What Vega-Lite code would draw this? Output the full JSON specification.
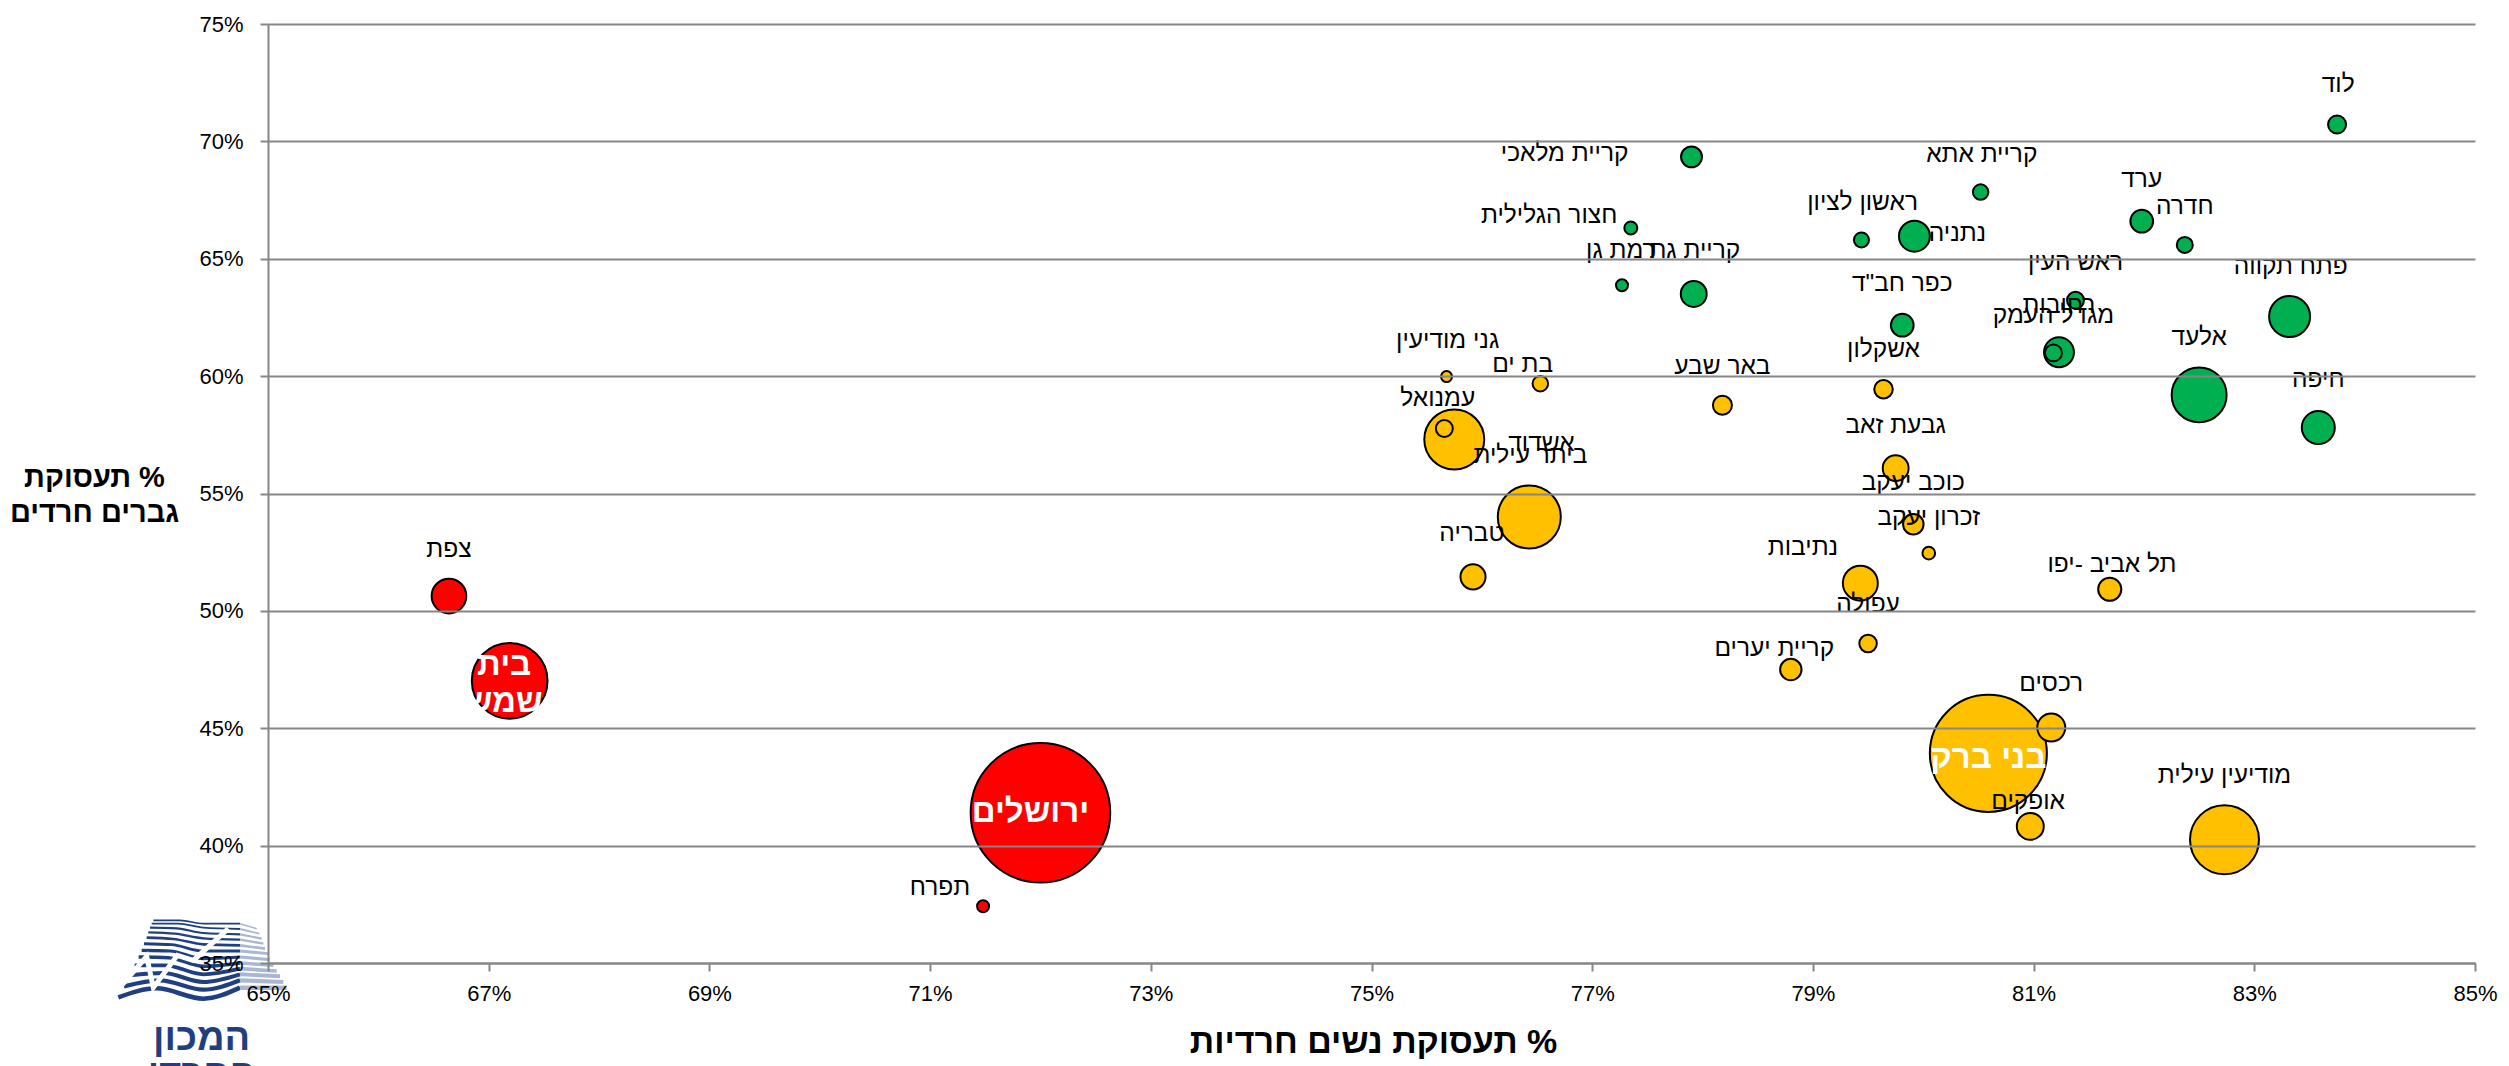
{
"$schema":"https://vega.github.io/schema/vega-lite/v6.json",
"autosize":{"type":"none"},
"padding":{"left":268,"top":24,"right":34,"bottom":103},
"width":2207,"height":939,
"background":"white",
"config":{"view":{"stroke":null},"font":"Liberation Sans"},
"datasets":{
"logo":[
{"stripe":0,"part":"dark","zx":55,"zy":291},{"stripe":0,"part":"dark","zx":170,"zy":264},{"stripe":0,"part":"dark","zx":310,"zy":295},{"stripe":0,"part":"dark","zx":420,"zy":262},{"stripe":0,"part":"light","zx":420,"zy":262},{"stripe":0,"part":"light","zx":560,"zy":262},
{"stripe":1,"part":"dark","zx":72,"zy":258},{"stripe":1,"part":"dark","zx":180,"zy":240},{"stripe":1,"part":"dark","zx":310,"zy":268},{"stripe":1,"part":"dark","zx":420,"zy":240},{"stripe":1,"part":"light","zx":420,"zy":240},{"stripe":1,"part":"light","zx":550,"zy":245},
{"stripe":2,"part":"dark","zx":90,"zy":225},{"stripe":2,"part":"dark","zx":190,"zy":218},{"stripe":2,"part":"dark","zx":310,"zy":245},{"stripe":2,"part":"dark","zx":420,"zy":222},{"stripe":2,"part":"light","zx":420,"zy":222},{"stripe":2,"part":"light","zx":540,"zy":228},
{"stripe":3,"part":"dark","zx":104,"zy":195},{"stripe":3,"part":"dark","zx":195,"zy":195},{"stripe":3,"part":"dark","zx":310,"zy":222},{"stripe":3,"part":"dark","zx":420,"zy":205},{"stripe":3,"part":"light","zx":420,"zy":205},{"stripe":3,"part":"light","zx":530,"zy":212},
{"stripe":4,"part":"dark","zx":116,"zy":170},{"stripe":4,"part":"dark","zx":205,"zy":172},{"stripe":4,"part":"dark","zx":310,"zy":198},{"stripe":4,"part":"dark","zx":420,"zy":188},{"stripe":4,"part":"light","zx":420,"zy":188},{"stripe":4,"part":"light","zx":520,"zy":195},
{"stripe":5,"part":"dark","zx":125,"zy":150},{"stripe":5,"part":"dark","zx":210,"zy":152},{"stripe":5,"part":"dark","zx":310,"zy":175},{"stripe":5,"part":"dark","zx":420,"zy":170},{"stripe":5,"part":"light","zx":420,"zy":170},{"stripe":5,"part":"light","zx":510,"zy":178},
{"stripe":6,"part":"dark","zx":132,"zy":130},{"stripe":6,"part":"dark","zx":215,"zy":133},{"stripe":6,"part":"dark","zx":310,"zy":152},{"stripe":6,"part":"dark","zx":420,"zy":152},{"stripe":6,"part":"light","zx":420,"zy":152},{"stripe":6,"part":"light","zx":505,"zy":160},
{"stripe":7,"part":"dark","zx":140,"zy":112},{"stripe":7,"part":"dark","zx":220,"zy":116},{"stripe":7,"part":"dark","zx":310,"zy":132},{"stripe":7,"part":"dark","zx":420,"zy":135},{"stripe":7,"part":"light","zx":420,"zy":135},{"stripe":7,"part":"light","zx":495,"zy":145},
{"stripe":8,"part":"dark","zx":145,"zy":96},{"stripe":8,"part":"dark","zx":225,"zy":100},{"stripe":8,"part":"dark","zx":310,"zy":114},{"stripe":8,"part":"dark","zx":420,"zy":118},{"stripe":8,"part":"light","zx":420,"zy":118},{"stripe":8,"part":"light","zx":490,"zy":130},
{"stripe":9,"part":"dark","zx":150,"zy":82},{"stripe":9,"part":"dark","zx":230,"zy":84},{"stripe":9,"part":"dark","zx":310,"zy":98},{"stripe":9,"part":"dark","zx":420,"zy":102},{"stripe":9,"part":"light","zx":420,"zy":102},{"stripe":9,"part":"light","zx":485,"zy":115},
{"stripe":10,"part":"dark","zx":155,"zy":70},{"stripe":10,"part":"dark","zx":235,"zy":70},{"stripe":10,"part":"dark","zx":310,"zy":82},{"stripe":10,"part":"dark","zx":420,"zy":86},{"stripe":10,"part":"light","zx":420,"zy":86},{"stripe":10,"part":"light","zx":478,"zy":100},
{"stripe":11,"part":"dark","zx":160,"zy":60},{"stripe":11,"part":"dark","zx":240,"zy":60},{"stripe":11,"part":"dark","zx":310,"zy":70},{"stripe":11,"part":"dark","zx":420,"zy":70},{"stripe":11,"part":"light","zx":420,"zy":70},{"stripe":11,"part":"light","zx":470,"zy":85}
],
"zig":[{"n":1,"zx":50,"zy":272},{"n":2,"zx":140,"zy":168},{"n":3,"zx":160,"zy":262},{"n":4,"zx":232,"zy":165},{"n":5,"zx":280,"zy":180},{"n":6,"zx":385,"zy":85}],
"logoText":[{"label":"המכון","zx":305,"zy":415},{"label":"החרדי","zx":305,"zy":525}],
"cities":[
{"city":"לוד","group":"high","women":83.75,"men":70.72,"pop":17},
{"city":"קריית מלאכי","group":"high","women":77.9,"men":69.34,"pop":23},
{"city":"קריית אתא","group":"high","women":80.52,"men":67.84,"pop":12.6},
{"city":"ערד","group":"high","women":81.98,"men":66.6,"pop":27},
{"city":"חדרה","group":"high","women":82.37,"men":65.59,"pop":13.4},
{"city":"ראשון לציון","group":"high","women":79.44,"men":65.8,"pop":11.8},
{"city":"נתניה","group":"high","women":79.92,"men":65.96,"pop":50},
{"city":"חצור הגלילית","group":"high","women":77.35,"men":66.31,"pop":8.8},
{"city":"רמת גן","group":"high","women":77.27,"men":63.87,"pop":7.5},
{"city":"קריית גת","group":"high","women":77.92,"men":63.5,"pop":35},
{"city":"ראש העין","group":"high","women":81.38,"men":63.23,"pop":15},
{"city":"פתח תקווה","group":"high","women":83.32,"men":62.54,"pop":88},
{"city":"כפר חב\"ד","group":"high","women":79.81,"men":62.17,"pop":27},
{"city":"רחובות","group":"high","women":81.23,"men":61.02,"pop":47},
{"city":"מגדל העמק","group":"high","women":81.18,"men":60.99,"pop":15},
{"city":"אלעד","group":"high","women":82.5,"men":59.2,"pop":158},
{"city":"חיפה","group":"high","women":83.58,"men":57.81,"pop":57},
{"city":"גני מודיעין","group":"mid","women":75.68,"men":59.98,"pop":6.3},
{"city":"בת ים","group":"mid","women":76.53,"men":59.68,"pop":12.6},
{"city":"באר שבע","group":"mid","women":78.18,"men":58.76,"pop":19},
{"city":"אשקלון","group":"mid","women":79.64,"men":59.44,"pop":18},
{"city":"עמנואל","group":"mid","women":75.66,"men":57.77,"pop":15},
{"city":"אשדוד","group":"mid","women":75.75,"men":57.3,"pop":188},
{"city":"ביתר עילית","group":"mid","women":76.43,"men":54.0,"pop":208},
{"city":"גבעת זאב","group":"mid","women":79.75,"men":56.08,"pop":35},
{"city":"טבריה","group":"mid","women":75.92,"men":51.45,"pop":33},
{"city":"כוכב יעקב","group":"mid","women":79.91,"men":53.69,"pop":22},
{"city":"זכרון יעקב","group":"mid","women":80.05,"men":52.46,"pop":8.4},
{"city":"נתיבות","group":"mid","women":79.43,"men":51.18,"pop":64},
{"city":"תל אביב -יפו","group":"mid","women":81.69,"men":50.92,"pop":28},
{"city":"עפולה","group":"mid","women":79.5,"men":48.61,"pop":16},
{"city":"קריית יערים","group":"mid","women":78.8,"men":47.5,"pop":24},
{"city":"רכסים","group":"mid","women":81.16,"men":45.03,"pop":41},
{"city":"בני ברק","group":"mid","women":80.59,"men":43.93,"pop":717},
{"city":"אופקים","group":"mid","women":80.97,"men":40.82,"pop":38},
{"city":"מודיעין עילית","group":"mid","women":82.73,"men":40.25,"pop":249},
{"city":"ירושלים","group":"low","women":72.0,"men":41.4,"pop":1020},
{"city":"בית שמש","group":"low","women":67.19,"men":47.02,"pop":300},
{"city":"צפת","group":"low","women":66.64,"men":50.63,"pop":63},
{"city":"תפרח","group":"low","women":71.48,"men":37.42,"pop":7.5}
],
"labels":[
{"label":"לוד","lx":83.76,"ly":72.47},
{"label":"קריית מלאכי","lx":76.75,"ly":69.55},
{"label":"קריית אתא","lx":80.53,"ly":69.51},
{"label":"ערד","lx":81.98,"ly":68.44},
{"label":"חדרה","lx":82.37,"ly":67.28},
{"label":"ראשון לציון","lx":79.45,"ly":67.45},
{"label":"נתניה","lx":80.31,"ly":66.13},
{"label":"חצור הגלילית","lx":76.61,"ly":66.92},
{"label":"רמת גן","lx":77.26,"ly":65.43},
{"label":"קריית גת","lx":77.93,"ly":65.4},
{"label":"ראש העין","lx":81.38,"ly":64.89},
{"label":"פתח תקווה","lx":83.33,"ly":64.75},
{"label":"כפר חב\"ד","lx":79.81,"ly":64.01},
{"label":"רחובות","lx":81.23,"ly":63.06},
{"label":"מגדל העמק","lx":81.18,"ly":62.65},
{"label":"אלעד","lx":82.5,"ly":61.73},
{"label":"חיפה","lx":83.58,"ly":59.9},
{"label":"גני מודיעין","lx":75.69,"ly":61.57},
{"label":"בת ים","lx":76.37,"ly":60.56},
{"label":"באר שבע","lx":78.18,"ly":60.46},
{"label":"אשקלון","lx":79.64,"ly":61.18},
{"label":"עמנואל","lx":75.6,"ly":59.09},
{"label":"אשדוד","lx":76.54,"ly":57.2},
{"label":"ביתר עילית","lx":76.44,"ly":56.7},
{"label":"גבעת זאב","lx":79.75,"ly":57.95},
{"label":"כוכב יעקב","lx":79.91,"ly":55.52},
{"label":"זכרון יעקב","lx":80.05,"ly":54.03},
{"label":"טבריה","lx":75.91,"ly":53.34},
{"label":"נתיבות","lx":78.91,"ly":52.77},
{"label":"תל אביב -יפו","lx":81.71,"ly":52.06},
{"label":"עפולה","lx":79.5,"ly":50.34},
{"label":"קריית יערים","lx":78.65,"ly":48.47},
{"label":"רכסים","lx":81.16,"ly":46.98},
{"label":"אופקים","lx":80.95,"ly":41.94},
{"label":"מודיעין עילית","lx":82.73,"ly":43.04},
{"label":"צפת","lx":66.64,"ly":52.69},
{"label":"תפרח","lx":71.09,"ly":38.29}
],
"inside":[
{"label":"ירושלים","lx":71.91,"ly":41.44},
{"label":"בני ברק","lx":80.59,"ly":43.75},
{"label":"בית","lx":67.14,"ly":47.69},
{"label":"שמש","lx":67.14,"ly":46.12}
]
},
"resolve":{"scale":{"x":"independent","y":"independent","color":"independent"}},
"layer":[
{"data":{"name":"logo"},
 "mark":{"type":"line","clip":false,"interpolate":"monotone"},
 "encoding":{
  "x":{"field":"zx","type":"quantitative","axis":null,"scale":{"domain":[504,7125],"nice":false,"zero":false}},
  "y":{"field":"zy","type":"quantitative","axis":null,"scale":{"domain":[188,-2629],"nice":false,"zero":false}},
  "detail":[{"field":"stripe"},{"field":"part"}],
  "color":{"field":"part","type":"nominal","legend":null,"scale":{"domain":["dark","light"],"range":["#1f3f80","#a9b7d3"]}},
  "strokeWidth":{"field":"stripe","type":"quantitative","legend":null,"scale":{"domain":[0,11],"range":[4.5,1.6]}}
 }},
{"data":{"name":"zig"},
 "mark":{"type":"line","clip":false,"color":"white","strokeWidth":5},
 "encoding":{
  "x":{"field":"zx","type":"quantitative","axis":null,"scale":{"domain":[504,7125],"nice":false,"zero":false}},
  "y":{"field":"zy","type":"quantitative","axis":null,"scale":{"domain":[188,-2629],"nice":false,"zero":false}},
  "order":{"field":"n"}
 }},
{"data":{"name":"logoText"},
 "mark":{"type":"text","clip":false,"color":"#1f3f80","fontSize":38,"fontWeight":"bold","baseline":"middle","align":"center"},
 "encoding":{
  "x":{"field":"zx","type":"quantitative","axis":null,"scale":{"domain":[504,7125],"nice":false,"zero":false}},
  "y":{"field":"zy","type":"quantitative","axis":null,"scale":{"domain":[188,-2629],"nice":false,"zero":false}},
  "text":{"field":"label"}
 }},
{"data":{"name":"cities"},
 "mark":{"type":"point","filled":true,"shape":"circle","stroke":"black","strokeWidth":2,"opacity":1},
 "encoding":{
  "x":{"field":"women","type":"quantitative","scale":{"domain":[65,85],"nice":false,"zero":false},
   "axis":{"zindex":1,"values":[65,67,69,71,73,75,77,79,81,83,85],"labelExpr":"datum.value + '%'","grid":false,"domainColor":"#868686","domainWidth":2,"tickColor":"#868686","tickWidth":2,"tickSize":8,"labelFontSize":22,"labelColor":"black","labelPadding":12,"labelFlush":false,"title":"תעסוקת נשים חרדיות %","titleFontSize":34,"titleFontWeight":"bold","titleColor":"black","titleBaseline":"middle","titleX":1105,"titleY":79}},
  "y":{"field":"men","type":"quantitative","scale":{"domain":[35,75],"nice":false,"zero":false},
   "axis":{"zindex":1,"values":[35,40,45,50,55,60,65,70,75],"labelExpr":"datum.value + '%'","grid":true,"gridColor":"#868686","gridWidth":2,"domainColor":"#868686","domainWidth":2,"tickColor":"#868686","tickWidth":2,"tickSize":8,"labelFontSize":22,"labelColor":"black","labelPadding":17,"labelFlush":false,"title":["תעסוקת %","גברים חרדים"],"titleFontSize":29,"titleFontWeight":"bold","titleColor":"black","titleAngle":0,"titleAlign":"center","titleBaseline":"middle","titleLineHeight":35,"titleX":-174,"titleY":453}},
  "size":{"field":"pop","type":"quantitative","legend":null,"scale":{"domain":[0,1000],"range":[0,19100]}},
  "color":{"field":"group","type":"nominal","legend":null,"scale":{"domain":["high","mid","low"],"range":["#00B050","#FFC000","#FF0000"]}},
  "order":{"field":"pop","sort":"descending"}
 }},
{"data":{"name":"labels"},
 "mark":{"type":"text","fontSize":24.5,"color":"black","baseline":"middle","align":"center","dy":2},
 "encoding":{
  "x":{"field":"lx","type":"quantitative","axis":null,"scale":{"domain":[65,85],"nice":false,"zero":false}},
  "y":{"field":"ly","type":"quantitative","axis":null,"scale":{"domain":[35,75],"nice":false,"zero":false}},
  "text":{"field":"label"}
 }},
{"data":{"name":"inside"},
 "mark":{"type":"text","fontSize":33,"fontWeight":"bold","color":"white","baseline":"middle","align":"center"},
 "encoding":{
  "x":{"field":"lx","type":"quantitative","axis":null,"scale":{"domain":[65,85],"nice":false,"zero":false}},
  "y":{"field":"ly","type":"quantitative","axis":null,"scale":{"domain":[35,75],"nice":false,"zero":false}},
  "text":{"field":"label"}
 }}
]
}
